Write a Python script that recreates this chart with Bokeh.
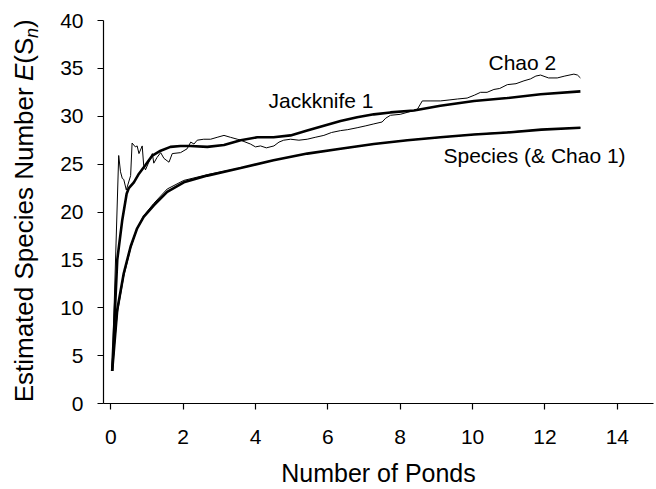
from bokeh.plotting import figure
from bokeh.models import Range1d, FixedTicker, Label
from bokeh.layouts import row
from bokeh.core.properties import value
from bokeh.embed import file_html
from bokeh.resources import INLINE
from math import pi

# ---------------- data ----------------
species_x = [0.04, 0.18, 0.36, 0.55, 0.73, 0.91, 1.19, 1.56, 2.02, 2.67, 3.59, 4.5, 5.43,
             6.35, 7.27, 8.2, 9.11, 10.04, 10.96, 11.9, 12.98]
species_y = [3.4, 9.8, 13.6, 16.4, 18.3, 19.5, 20.7, 22.1, 23.1, 23.8, 24.6, 25.4, 26.1,
             26.6, 27.1, 27.5, 27.8, 28.1, 28.3, 28.6, 28.8]
chao1_y = [3.4, 9.4, 13.3, 16.2, 18.3, 19.6, 20.9, 22.4, 23.3, 23.9, 24.6, 25.4, 26.1,
           26.6, 27.1, 27.5, 27.8, 28.1, 28.35, 28.6, 28.8]

jack_x = [0.04, 0.18, 0.32, 0.44, 0.50, 0.64, 0.78, 0.96, 1.15, 1.38, 1.65, 1.93, 2.2, 2.67,
          3.13, 3.59, 4.05, 4.5, 4.97, 5.43, 5.89, 6.35, 6.81, 7.27, 7.73, 8.38, 9.11, 10.04,
          10.96, 11.88, 12.98]
jack_y = [3.4, 15.0, 19.2, 21.9, 22.5, 23.1, 24.0, 24.9, 25.9, 26.4, 26.8, 26.9, 26.9, 26.8,
          27.0, 27.5, 27.8, 27.8, 28.0, 28.5, 29.0, 29.5, 29.9, 30.2, 30.4, 30.6, 31.1, 31.6,
          31.9, 32.3, 32.6]

chao2_x = [0.04, 0.22, 0.27, 0.32, 0.36, 0.43, 0.55, 0.59, 0.68, 0.73, 0.78, 0.87, 0.91, 0.96,
           1.04, 1.15, 1.19, 1.28, 1.38, 1.47, 1.61, 1.70, 1.93, 2.11, 2.21, 2.30, 2.39, 2.57,
           2.76, 2.94, 3.13, 3.31, 3.50, 3.59, 3.86, 4.0, 4.14, 4.3, 4.51, 4.65, 4.78, 4.97,
           5.2, 5.43, 5.65, 5.89, 6.1, 6.35, 6.55, 6.81, 7.05, 7.27, 7.5, 7.6, 7.73, 8.0, 8.19,
           8.47, 8.61, 8.85, 9.11, 9.35, 9.58, 9.85, 10.05, 10.22, 10.4, 10.59, 10.75, 10.96,
           11.2, 11.42, 11.6, 11.75, 11.88, 12.1, 12.34, 12.55, 12.8, 12.9, 12.98]
chao2_y = [3.4, 25.9, 24.2, 23.5, 23.4, 22.3, 23.8, 27.2, 26.8, 26.9, 26.1, 26.9, 24.9, 24.4,
           25.1, 26.1, 25.1, 25.7, 26.2, 25.6, 25.2, 26.1, 26.2, 26.6, 27.3, 27.1, 27.5, 27.6,
           27.6, 27.8, 28.0, 27.8, 27.6, 27.5, 27.1, 26.8, 26.9, 26.7, 26.9, 27.3, 27.5, 27.6,
           27.5, 27.6, 27.8, 28.0, 28.3, 28.5, 28.6, 28.8, 29.0, 29.2, 29.4, 29.8, 30.1, 30.2,
           30.4, 30.7, 31.6, 31.6, 31.6, 31.7, 31.8, 31.9, 32.2, 32.5, 32.5, 32.8, 32.9, 33.3,
           33.4, 33.7, 33.9, 34.2, 34.3, 34.0, 34.0, 34.2, 34.4, 34.3, 34.0]

x_ticks = [0, 2, 4, 6, 8, 10, 12, 14]
y_ticks = [0, 5, 10, 15, 20, 25, 30, 35, 40]

FONT = "Liberation Sans"
H = 489          # total page height used
LAB_W = 40       # width of the strip holding the y-axis title

# ---------------- main figure ----------------
X0, X1 = -0.2, 15.0
Y0, Y1 = 0.0, 40.0
FRAME_L, FRAME_R, FRAME_T, FRAME_B = 103.0, 653.0, 20.0, 405.0   # page px

p = figure(width=int(FRAME_R - LAB_W) + 1, height=H, output_backend="svg",
           toolbar_location=None,
           x_range=Range1d(X0, X1), y_range=Range1d(Y0, Y1),
           min_border_left=int(FRAME_L - LAB_W), min_border_right=1,
           min_border_top=int(FRAME_T), min_border_bottom=int(H - FRAME_B))
p.background_fill_color = "white"
p.border_fill_color = "white"
p.outline_line_color = None
p.xgrid.visible = False
p.ygrid.visible = False

for ax in (p.xaxis[0], p.yaxis[0]):
    ax.axis_line_color = "black"
    ax.axis_line_width = 1.2
    ax.major_tick_line_color = "black"
    ax.major_tick_line_width = 1.2
    ax.major_tick_in = 0
    ax.major_tick_out = 6
    ax.minor_tick_in = 0
    ax.minor_tick_out = 0
    ax.major_label_text_font = FONT
    ax.major_label_text_font_size = "21px"
    ax.major_label_text_color = "black"

p.xaxis.ticker = FixedTicker(ticks=x_ticks)
p.yaxis.ticker = FixedTicker(ticks=y_ticks)
p.xaxis.major_label_standoff = 20
p.yaxis.major_label_standoff = 14

p.xaxis.axis_label = "Number of Ponds"
p.xaxis.axis_label_text_font = FONT
p.xaxis.axis_label_text_font_size = "25px"
p.xaxis.axis_label_text_font_style = "normal"
p.xaxis.axis_label_text_color = "black"
p.xaxis.axis_label_text_line_height = 1.0
p.xaxis.axis_label_standoff = 12

# ---------------- lines ----------------
p.line(species_x, species_y, line_color="black", line_width=2.6)
p.line(species_x, chao1_y, line_color="black", line_width=1.0)
p.line(jack_x, jack_y, line_color="black", line_width=2.6)
p.line(chao2_x, chao2_y, line_color="black", line_width=1.0)

# ---------------- curve annotations (anchor = left end, vertical middle) ----------------
def dx(px):
    return X0 + (px - FRAME_L) * (X1 - X0) / (FRAME_R - FRAME_L)
def dy(py):
    return Y0 + (FRAME_B - py) * (Y1 - Y0) / (FRAME_B - FRAME_T)

def add_text(txt, px, py, size):
    p.add_layout(Label(x=dx(px), y=dy(py), text=txt, text_font=FONT,
                       text_font_size=f"{size}px", text_color="black",
                       text_align="left", text_baseline="middle"))

add_text("Jackknife 1", 268, 100.5, 21)
add_text("Chao 2", 488, 62.5, 21)
add_text("Species (& Chao 1)", 443, 155.5, 21)

# ---------------- y-axis title strip (rotated, mixed styles) ----------------
# same vertical borders / y range as the main plot, so the frames coincide
lab = figure(width=LAB_W, height=H, output_backend="svg", toolbar_location=None,
             x_range=Range1d(0, LAB_W), y_range=Range1d(Y0, Y1),
             x_axis_type=None, y_axis_type=None,
             min_border_left=0, min_border_right=0,
             min_border_top=int(FRAME_T), min_border_bottom=int(H - FRAME_B))
lab.outline_line_color = None
lab.background_fill_color = "white"
lab.border_fill_color = "white"

YS = 26
SUB = 18
# (text, font px, style, width px, advance incl. following space, centre x px)
pieces = [("Estimated Species Number", YS, "normal", 12.115 * YS, 12.393 * YS, 23.5),
          ("E", YS, "italic", 0.667 * YS, 0.667 * YS, 23.5),
          ("(S", YS, "normal", 1.0 * YS, 1.0 * YS, 23.5),
          ("n", SUB, "italic", 0.556 * SUB, 0.556 * SUB, 31.0),
          (")", YS, "normal", 0.333 * YS, 0.333 * YS, 23.5)]
py = 403.0
for txt, size, style, w, adv, cx in pieces:
    cy = py - w / 2.0
    lab.text(x=[cx], y=[dy(cy)], text=[txt], angle=pi / 2,
             text_font=value(FONT), text_font_size=value(f"{size}px"),
             text_font_style=style, text_color="black",
             text_align="center", text_baseline="middle")
    py -= adv

layout = row(lab, p)
open("out.html", "w").write(file_html(layout, INLINE))
